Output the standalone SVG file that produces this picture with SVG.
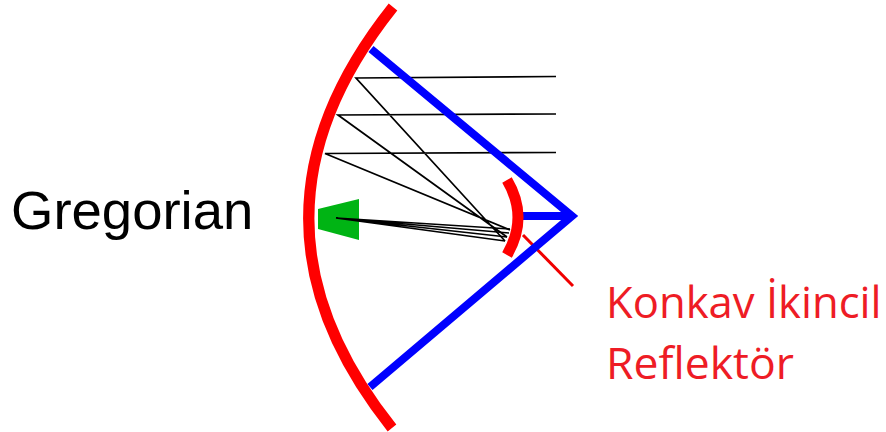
<svg xmlns="http://www.w3.org/2000/svg" width="886" height="432" viewBox="0 0 886 432">
<style>
.ray{fill:none;stroke:#000;stroke-width:1.7}
.blue{fill:none;stroke:#0000ff;stroke-width:8}
.red{fill:none;stroke:#ff0000;stroke-linecap:butt}
text{font-family:"Open Sans","Liberation Sans",sans-serif}
</style>
<rect width="886" height="432" fill="#fff"/>
<g id="feed"><path d="M318 209L359 199V240L318 229Z" fill="#00b414"/></g>
<g id="connectors">
<path class="ray" d="M556 76.500L356 78L505 241M556 114L338 115L507 237M556 152.500L325 153.500L510 230"/>
<path class="ray" d="M336 218L510 229M336 218L509 233M336 218L507 237M336 218L505 241"/>
<path d="M523 235L573 286" fill="none" stroke="#f00000" stroke-width="3"/>
</g>
<g id="blue-frame"><path class="blue" d="M371 49L572 216L370 387M572 216H522"/></g>
<g id="primary-reflector"><path class="red" stroke-width="11" d="M393 7Q225 218 392 428"/></g>
<g id="secondary-reflector"><path class="red" stroke-width="11" d="M507 180Q529 217 507 255"/></g>
<g id="label-gregorian"><text x="11" y="229" font-size="54.500" style="font-family:'Liberation Sans',sans-serif">Gregorian</text></g>
<g id="label-konkav" fill="#ee1c25"><text x="606" y="318" font-size="43.600">Konkav İkincil</text><text x="606" y="379" font-size="44.500">Reflektör</text></g>
</svg>
